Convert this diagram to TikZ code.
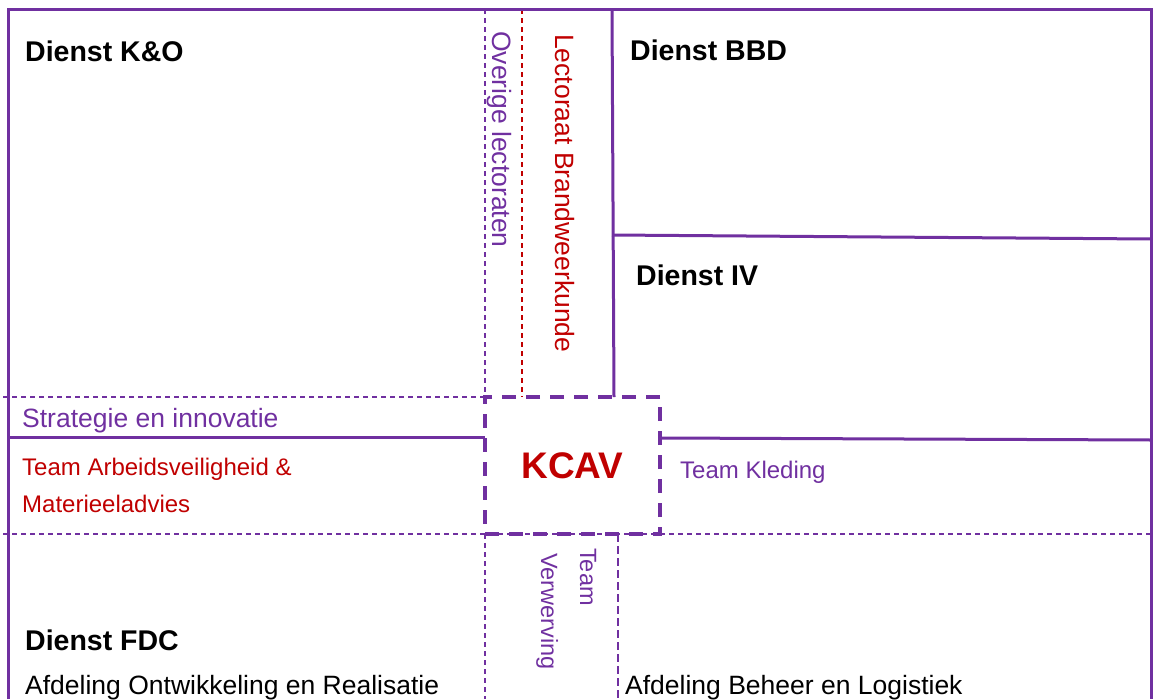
\documentclass[tikz,border=0pt]{standalone}
\usepackage{fontspec}
\setmainfont{Liberation Sans}
\definecolor{kpurple}{HTML}{7030A0}
\definecolor{kred}{HTML}{C00000}
\begin{document}
\begin{tikzpicture}[x=1pt,y=-1pt,
  frameline/.style={draw=kpurple,line width=3pt},
  thindash/.style={draw=kpurple,line width=1.2pt,dash pattern=on 5pt off 4pt},
  longdash/.style={draw=kpurple,line width=1.2pt,dash pattern=on 8pt off 4pt},
  reddash/.style={draw=kred,line width=1.2pt,dash pattern=on 5pt off 4pt},
  kcavbox/.style={draw=kpurple,line width=4.5pt,dash pattern=on 14pt off 10pt,
    minimum width=175pt,minimum height=137pt,inner sep=0pt,
    font=\fontsize{37}{44}\selectfont\bfseries,text=kred},
  head/.style={font=\fontsize{28.5}{34}\selectfont\bfseries,text=black,inner sep=0pt,anchor=base west},
  body/.style={font=\fontsize{26.5}{32}\selectfont,text=black,inner sep=0pt,anchor=base west},
  plabel/.style={font=\fontsize{26.5}{32}\selectfont,text=kpurple,inner sep=0pt,anchor=base west},
  rlabel/.style={font=\fontsize{26.5}{32}\selectfont,text=kred,inner sep=0pt,anchor=base west},
  smallp/.style={font=\fontsize{24}{29}\selectfont,text=kpurple,inner sep=0pt,anchor=base west},
  smallr/.style={font=\fontsize{24}{29}\selectfont,text=kred,inner sep=0pt,anchor=base west},
  vert/.style={rotate=-90}
]
\useasboundingbox (0,0) rectangle (1154,699);

% thin dashed guide lines
\draw[thindash] (3,397) -- (485,397);
\draw[thindash] (3,534) -- (1151,534);
\draw[thindash] (485,9) -- (485,397);
\draw[thindash] (485,534) -- (485,699);
\draw[reddash] (522,9) -- (522,397);
\draw[longdash] (618,534) -- (618,699);

% solid frame and dividers
\draw[frameline] (8,699) -- (8,9) -- (1151,9) -- (1151,699);
\draw[frameline] (612,9) -- (614,397);
\draw[frameline] (612,235) -- (1151,239);
\draw[frameline] (660,438) -- (1151,440);
\draw[frameline] (8,437) -- (485,437);

% KCAV box
\node[kcavbox] (kcav) at (572.5,465.5) {KCAV};

% headings
\node[head] (ko) at (25,61) {Dienst K\&O};
\node[head] (bbd) at (630,60) {Dienst BBD};
\node[head] (iv) at (636,285) {Dienst IV};
\node[head] (fdc) at (25,650) {Dienst FDC};

% labels
\node[plabel] (strat) at (22,427) {Strategie en innovatie};
\node[smallr] (team1) at (22,475) {Team Arbeidsveiligheid \&};
\node[smallr] (team2) at (22,512) {Materieeladvies};
\node[smallp] (kleding) at (680,478) {Team Kleding};
\node[body] (aor) at (25,694) {Afdeling Ontwikkeling en Realisatie};
\node[body] (abl) at (625,694) {Afdeling Beheer en Logistiek};

% vertical labels
\node[plabel,vert] (overige) at (492,31) {Overige lectoraten};
\node[rlabel,vert] (lect) at (555,34) {Lectoraat Brandweerkunde};
\node[smallp,vert,font=\fontsize{23.5}{28}\selectfont] (vteam) at (580,548) {Team};
\node[smallp,vert,font=\fontsize{23.5}{28}\selectfont] (vverw) at (541,553) {Verwerving};
\end{tikzpicture}
\end{document}
